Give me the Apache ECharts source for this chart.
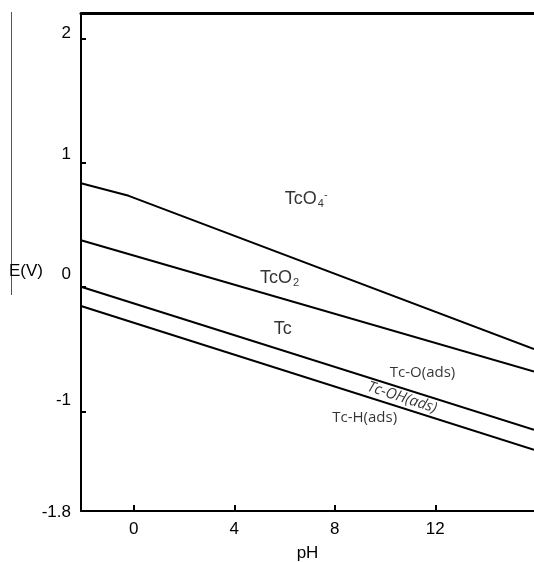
<!DOCTYPE html>
<html>
<head>
<meta charset="utf-8">
<script src="https://cdn.jsdelivr.net/npm/echarts@6/dist/echarts.min.js"></script>
<style>html,body{margin:0;padding:0;background:#fff;}#c{width:534px;height:562px;}</style>
</head>
<body>
<div id="c"></div>
<script>
// Boundary lines (pH, E in V)
const pH_A = [-2.1, -0.2, 15.93];
const E_A  = [0.836, 0.735, -0.498];
const pH_B = [-2.1, 15.93];
const E_B  = [0.378, -0.678];
const pH_C = [-2.1, 15.93];
const E_C  = [0.004, -1.147];
const pH_D = [-2.1, 15.93];
const E_D  = [-0.151, -1.308];

// Tick labels
const xTicks = [0, 4, 8, 12];
const yLabels = [-1.8, -1, 0, 1, 2];
const yTicks = [-1, 0, 1, 2];

// Region labels
const regionNames = ['TcO4-', 'TcO2', 'Tc', 'Tc-O(ads)', 'Tc-OH(ads)', 'Tc-H(ads)'];
const regionPH = [5.99, 5.0, 5.55, 10.17, 10.68, 7.88];
const regionE  = [0.71, 0.075, -0.335, -0.688, -0.888, -1.05];

const zip = (xs, ys) => xs.map((x, i) => [x, ys[i]]);
const sans = '"Liberation Sans", Arial, Helvetica, sans-serif';
const thin = '"Open Sans", "Noto Sans", sans-serif';

const yShift = {'-1.8': -1, '-1': 11, '0': 13, '1': 9, '2': 5};
const yRich = {};
Object.keys(yShift).forEach((k, i) => {
  const s = yShift[k];
  yRich['s' + i] = {
    fontSize: 17, fontFamily: sans, color: '#000',
    padding: [s < 0 ? -2 * s : 0, 0, s > 0 ? 2 * s : 0, 0]
  };
});

function lineSeries(xs, ys) {
  return {
    type: 'line', data: zip(xs, ys), symbol: 'none', silent: true,
    lineStyle: {color: '#000', width: 2}, xAxisIndex: 0, yAxisIndex: 0
  };
}

const richLabel = {
  b: {fontSize: 18, fontFamily: sans, color: '#000'},
  sub: {fontSize: 11, fontFamily: sans, color: '#000', padding: [10, 0, 0, 1]},
  sup: {fontSize: 11, fontFamily: sans, color: '#000', padding: [0, 0, 8, 0]},
  t: {fontSize: 15, fontFamily: thin, color: '#000', fontWeight: 500},
  ti: {fontSize: 15, fontFamily: thin, color: '#000', fontWeight: 500, fontStyle: 'italic'}
};

function fmtRegion(name) {
  if (name === 'TcO4-') return '{b|TcO}{sub|4}{sup|-}';
  if (name === 'TcO2') return '{b|TcO}{sub|2}';
  if (name === 'Tc') return '{b|Tc}';
  if (name === 'Tc-OH(ads)') return '{ti|Tc-OH(ads)}';
  return '{t|' + name + '}';
}

const regionData = regionNames.map((n, i) => {
  const rot = n === 'Tc-OH(ads)';
  return {
    value: [regionPH[i], regionE[i]],
    label: {
      show: true,
      color: '#000',
      formatter: fmtRegion(n),
      rich: richLabel,
      position: rot ? 'inside' : 'right',
      distance: 0,
      rotate: rot ? -18 : 0
    }
  };
});

const chart = echarts.init(document.getElementById('c'), null, {renderer: 'canvas'});
chart.setOption({
  animation: false,
  backgroundColor: '#fff',
  grid: {left: 81, right: 0, top: 13.7, bottom: 51, containLabel: false, outerBoundsMode: 'none'},
  xAxis: [{
    type: 'value', min: -2.1, max: 15.93, position: 'bottom',
    name: 'pH', nameLocation: 'middle', nameGap: 34, nameMoveOverlap: false,
    nameTextStyle: {fontSize: 17, fontFamily: sans, color: '#000'},
    axisLine: {show: true, onZero: false, lineStyle: {color: '#000', width: 2}},
    axisTick: {show: true, inside: true, length: 6, customValues: xTicks, lineStyle: {color: '#000', width: 2}},
    axisLabel: {show: true, customValues: xTicks, margin: 10, fontSize: 17, fontFamily: sans, color: '#000'},
    splitLine: {show: false}
  }, {
    type: 'value', min: -2.1, max: 15.93, position: 'top',
    axisLine: {show: true, onZero: false, lineStyle: {color: '#000', width: 3}},
    axisTick: {show: false}, axisLabel: {show: false}, splitLine: {show: false}
  }],
  yAxis: [{
    type: 'value', min: -1.8, max: 2.2, position: 'left',
    name: 'E(V)', nameLocation: 'middle', nameRotate: 0, nameGap: 38, nameMoveOverlap: false,
    nameTextStyle: {fontSize: 17, fontFamily: sans, color: '#000', verticalAlign: 'top'},
    axisLine: {show: true, onZero: false, lineStyle: {color: '#000', width: 2}},
    axisTick: {show: true, inside: true, length: 5, customValues: yTicks, lineStyle: {color: '#000', width: 2}},
    axisLabel: {
      show: true, customValues: yLabels, margin: 10,
      formatter: function (v) {
        const key = String(Math.round(v * 10) / 10);
        const idx = Object.keys(yShift).indexOf(key);
        return '{s' + (idx < 0 ? 0 : idx) + '|' + key + '}';
      },
      rich: yRich
    },
    splitLine: {show: false}
  }],
  series: [
    lineSeries(pH_A, E_A),
    lineSeries(pH_B, E_B),
    lineSeries(pH_C, E_C),
    lineSeries(pH_D, E_D),
    {
      type: 'scatter', symbolSize: 1, silent: true, data: regionData,
      xAxisIndex: 0, yAxisIndex: 0, itemStyle: {color: 'rgba(0,0,0,0)'}
    }
  ],
  graphic: [{
    type: 'line', silent: true,
    shape: {x1: 11.5, y1: 12, x2: 11.5, y2: 295},
    style: {stroke: '#555', lineWidth: 1}
  }]
});
</script>
</body>
</html>
